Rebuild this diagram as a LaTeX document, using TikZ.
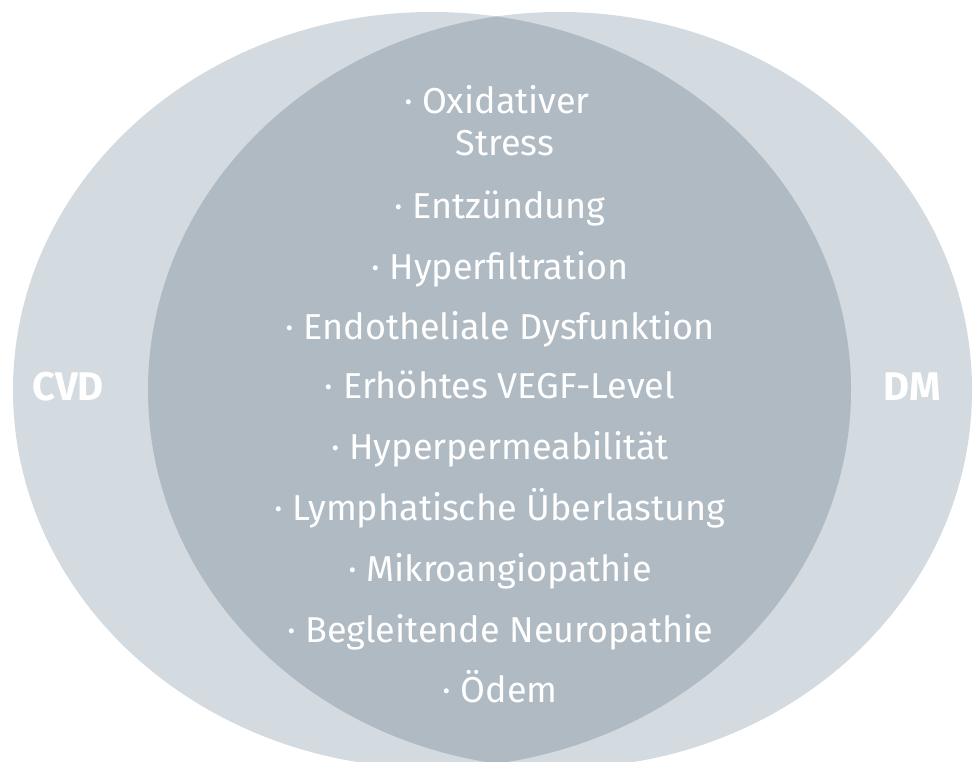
\documentclass[tikz,border=0pt]{standalone}
\usepackage{fontspec}
\setmainfont{Fira Sans}
\definecolor{setlight}{RGB}{211,218,224}
\definecolor{setdark}{RGB}{176,186,195}
\tikzset{
  item/.style={text=white, font=\fontsize{18}{20}\selectfont, anchor=base, inner sep=0pt},
  setname/.style={text=white, font=\fontsize{20}{22}\selectfont\bfseries, anchor=base, inner sep=0pt}
}
\newcommand{\pt}{\textperiodcentered\ }
\begin{document}
\begin{tikzpicture}[x=0.5pt, y=-0.5pt]
\useasboundingbox (0,0) rectangle (978,761);
\fill[white] (0,0) rectangle (978,761);
% the two sets
\fill[setlight] (432,390) ellipse [x radius=209.5pt, y radius=189pt];
\fill[setlight] (560,390) ellipse [x radius=206pt, y radius=189pt];
\begin{scope}
\clip (432,390) ellipse [x radius=209.5pt, y radius=189pt];
\fill[setdark] (560,390) ellipse [x radius=206pt, y radius=189pt];
\end{scope}
\path (68,400) node[setname] (cvd) {CVD};
\path (912,400) node[setname] (dm) {DM};
% shared factors
\path (497,113) node[item] (oxi) {\pt Oxidativer};
\path (505,155) node[item] (stress) {Stress};
\path (500,218) node[item] (entz) {\pt Entzündung};
\path (500,279) node[item] (hyperf) {\pt Hyperfiltration};
\path (500,339) node[item] (endo) {\pt Endotheliale Dysfunktion};
\path (500,398) node[item] (vegf) {\pt Erhöhtes VEGF-Level};
\path (500,459) node[item] (hyperp) {\pt Hyperpermeabilität};
\path (500,520) node[item] (lymph) {\pt Lymphatische Überlastung};
\path (500,581) node[item] (mikro) {\pt Mikroangiopathie};
\path (500,642) node[item] (neuro) {\pt Begleitende Neuropathie};
\path (500,702) node[item] (oedem) {\pt Ödem};
\end{tikzpicture}
\end{document}
